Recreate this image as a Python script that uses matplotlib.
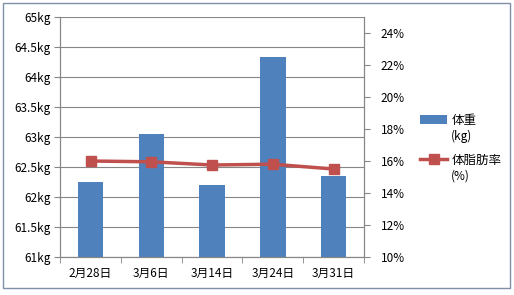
import matplotlib.pyplot as plt
import numpy as np
from matplotlib.patches import Rectangle

plt.rcParams['font.family'] = ['Noto Sans CJK JP', 'DejaVu Sans']

dates = ['2月28日', '3月6日', '3月14日', '3月24日', '3月31日']
weight = [62.25, 63.05, 62.2, 64.33, 62.35]
fat_rate = [16.0, 15.95, 15.75, 15.8, 15.5]
units = ['(kg)', '(%)']

bar_color = '#4F81BD'
line_color = '#C0504D'
axis_color = '#868686'

fig = plt.figure(figsize=(5.14, 2.95), dpi=100)
ax = fig.add_axes([0.117, 0.129, 0.591, 0.813])
x = np.arange(len(dates))

ax.bar(x, weight, width=0.42, color=bar_color, zorder=2, label='体重')
ax.set_ylim(61, 65)
ax.set_xlim(-0.5, len(dates) - 0.5)
yt = np.arange(61, 65.01, 0.5)
ax.set_yticks(yt)
ax.set_yticklabels([f'{v:g}kg' for v in yt])
ax.yaxis.grid(True, color=axis_color, linewidth=0.8, zorder=0)
ax.set_xticks(x)
ax.set_xticklabels(dates)
ax.set_xticks(np.arange(-0.5, len(dates)), minor=True)
ax.tick_params(axis='x', which='major', length=0, labelsize=8.5, pad=7)
ax.tick_params(axis='x', which='minor', length=4, color=axis_color)
ax.tick_params(axis='y', length=4, color=axis_color, labelsize=8.5, pad=3)
for s in ax.spines.values():
    s.set_color(axis_color)
ax.spines['top'].set_visible(False)

ax2 = ax.twinx()
ax2.plot(x, fat_rate, color=line_color, linewidth=2.5, marker='s', markersize=7,
         label='体脂肪率', zorder=3)
ax2.set_ylim(10, 25)
rt = np.arange(10, 24.01, 2)
ax2.set_yticks(rt)
ax2.set_yticklabels([f'{v:g}%' for v in rt])
ax2.tick_params(axis='y', length=4, color=axis_color, labelsize=8.5, pad=8)
for s in ax2.spines.values():
    s.set_color(axis_color)
ax2.spines['top'].set_visible(False)

h1, l1 = ax.get_legend_handles_labels()
h2, l2 = ax2.get_legend_handles_labels()
leg = fig.legend(h1 + h2, l1 + l2, loc='upper left', bbox_to_anchor=(0.795, 0.653),
                 frameon=False, fontsize=9, handlelength=2.2, handletextpad=0.3,
                 labelspacing=2.15)

# unit line under each legend label
fig.canvas.draw()
inv = fig.transFigure.inverted()
for t, u in zip(leg.get_texts(), units):
    bb = t.get_window_extent()
    x0, y0 = inv.transform((bb.x0, bb.y0))
    fig.text(x0, y0 - 0.012, u, fontsize=8.5, va='top', ha='left')

fig.patches.append(Rectangle((0.006, 0.025), 0.986, 0.965, transform=fig.transFigure,
                             fill=False, edgecolor='#7F8FA9', linewidth=1.0))

fig.savefig('out.png', dpi=100)
